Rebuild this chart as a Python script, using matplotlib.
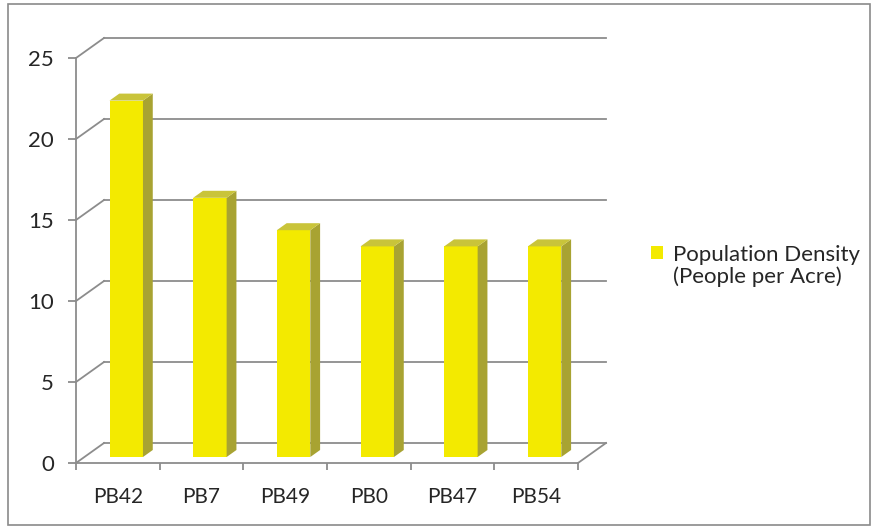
import matplotlib.pyplot as plt
from matplotlib.patches import Polygon, Rectangle, Patch

categories = ['PB42', 'PB7', 'PB49', 'PB0', 'PB47', 'PB54']
density = [22, 16, 14, 13, 13, 13]
y_ticks = [0, 5, 10, 15, 20, 25]
series_label = ['Population Density', '(People per Acre)']

FRONT = '#f3ea00'
SIDE = '#a8a332'
TOP = '#c9c43a'
GRID = '#8c8c8c'
TEXT = '#262626'

plt.rcParams['font.family'] = ['Lato', 'DejaVu Sans']

W, H = 874, 529
fig = plt.figure(figsize=(W / 100, H / 100), dpi=100)
ax = fig.add_axes([76 / W, (H - 463) / H, 502 / W, 405 / H])
n = len(categories)
ax.set_xlim(0, n)
ax.set_ylim(0, 25)
ax.patch.set_visible(False)


def depth(frac):
    # oblique depth: the back wall sits 28 px right and 20 px up of the front
    inv = ax.transData.inverted()
    p0 = ax.transData.transform((0, 0))
    return inv.transform((p0[0] + 28 * frac, p0[1] + 20 * frac))


bx, by = depth(1.0)
lw = 1.3

# back wall gridlines + left wall diagonals
for t in y_ticks:
    ax.plot([bx, n + bx], [t + by, t + by], color=GRID, lw=lw, clip_on=False, zorder=1)
    ax.plot([0, bx], [t, t + by], color=GRID, lw=lw, clip_on=False, zorder=1)
# floor right edge
ax.plot([n, n + bx], [0, by], color=GRID, lw=lw, clip_on=False, zorder=1)

# axes
for side in ['top', 'right']:
    ax.spines[side].set_visible(False)
for side in ['left', 'bottom']:
    ax.spines[side].set_color(GRID)
    ax.spines[side].set_linewidth(lw)
ax.set_yticks(y_ticks)
ax.tick_params(axis='y', length=6, width=lw, color=GRID, pad=10, labelsize=16, labelcolor=TEXT)
ax.set_xticks(range(n + 1))
ax.set_xticklabels([])
ax.tick_params(axis='x', which='major', length=5, width=lw, color=GRID)
ax.set_xticks([i + 0.5 for i in range(n)], minor=True)
ax.set_xticklabels(categories, minor=True)
ax.tick_params(axis='x', which='minor', length=0, pad=17, labelsize=15, labelcolor=TEXT)

# 3D bars: front face at depth 0.3, bar depth 0.35
bw = 0.4
fx, fy = depth(0.3)
dx, dy = depth(0.35)
xs = [i + 0.5 - bw / 2 + fx for i in range(n)]
bars = ax.bar(xs, density, width=bw, bottom=fy, align='edge', color=FRONT,
              clip_on=False, zorder=3)
for x0, v in zip(xs, density):
    x1 = x0 + bw
    top = fy + v
    ax.add_patch(Polygon([(x1, fy), (x1, top), (x1 + dx, top + dy), (x1 + dx, fy + dy)],
                         closed=True, facecolor=SIDE, edgecolor='none', clip_on=False, zorder=3))
    ax.add_patch(Polygon([(x0, top), (x1, top), (x1 + dx, top + dy), (x0 + dx, top + dy)],
                         closed=True, facecolor=TOP, edgecolor='none', clip_on=False, zorder=3))

# legend: square beside the first line only
fig.legend(handles=[Patch(facecolor=FRONT), Patch(facecolor='none', edgecolor='none')],
           labels=series_label, loc='center left',
           bbox_to_anchor=(631 / W, 1 - 266 / H), frameon=False, fontsize=16,
           handlelength=0.55, handleheight=0.55, handletextpad=0.45, labelspacing=0.1,
           labelcolor=TEXT)

# outer chart border
fig.patches.append(Rectangle((8 / W, 4 / H), 862 / W, 521 / H, transform=fig.transFigure,
                             fill=False, edgecolor='#8a8a8a', lw=1.2))

fig.savefig('out.png', dpi=100)
